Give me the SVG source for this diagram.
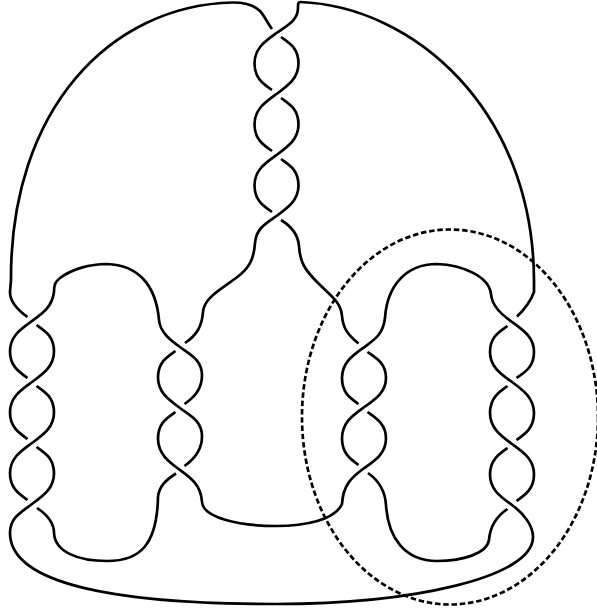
<svg xmlns="http://www.w3.org/2000/svg" width="597" height="610" viewBox="0 0 597 610">
<style>
path{fill:none;stroke:#000;stroke-width:2.7;stroke-linecap:butt}
ellipse{fill:none;stroke:#000;stroke-width:2.7;stroke-dasharray:5.500 2.800}
</style>
<rect width="597" height="610" fill="#fff"/>
<g id="knot">
<!-- top twist column -->
<path d="M272 29C268 24 264 15 260 11C254 5 246 2.500 233 2.500C110 5 10 110 11 280L10 292C10 303 19 311 27.500 317"/>
<path d="M300 2C298 2 298 4 298 8C298 20 288 25 276.500 33C265.500 41 254.500 48 254.500 63.500C254.500 78 263 84 272 90"/>
<path d="M281 37C289.500 43 298.500 48 298.500 63.500C298.500 78.500 287.500 86 276.500 94C265.500 102 254.500 109 254.500 124.500C254.500 139 263 145 272 151"/>
<path d="M281 98C289.500 104 298.500 109 298.500 124.500C298.500 139.500 287.500 147 276.500 155C265.500 163 254.500 170 254.500 185.500C254.500 200 263 206 272 212"/>
<path d="M281 159C289.500 165 298.500 170 298.500 185.500C298.500 200.500 287.500 208 276.500 216C265 224 256 229 255 243C254 258 250 268 236 278C220 290 204 298 203 312C202 326 197 335 185 343"/>
<path d="M281 220C291 226 298 234 299 246C300 262 304 269 318 283C330 295 341 302 342 316C343 329 349 336 358.500 343.500"/>
<path d="M300 2C412 6 533 108 534 280L534 292C530 303 525 309 517 316.500"/>
<!-- first twist column -->
<path d="M27.500 378C19 372 10 366 10 351.500C10 336 21 329 32 321C43 313 52 307 54 292C54 285 55 282 60 278C72 269 90 264 107 264C138 265 156 285 159 320C160 332 170 340 180 347C191 355 202 360 202 375.500C202 390 193 398 184.500 404"/>
<path d="M36.500 325C45 331 54 336 54 351.500C54 366.500 43 374 32 382C21 390 10 397 10 412.500C10 427 19 433 27.500 439"/>
<path d="M36.500 386C45 392 54 397 54 412.500C54 427.500 43 435 32 443C21 451 10 458 10 473.500C10 488 19 494 27.500 500"/>
<path d="M36.500 447C45 453 54 458 54 473.500C54 488.500 43 496 32 504C20 513 10 518 10 533C10 585 120 604 276 604C410 604 533 578 533 537C533 525 523 513 512 505C501 497 490 490 490 474.500C490 460 499 454 507.500 448"/>
<path d="M37 508C46 514 54 522 54 533C55 552 78 561 107 561C140 561 157 545 158 497C159 486 166 480 176 473.500"/>
<!-- second twist column -->
<path d="M175.500 351C167 357 158 362 158 377.500C158 392.500 169 400 180 408C191 416 202 421 202 436.500C202 451 193 460 184.500 466"/>
<path d="M175.500 412C167 418 158 423 158 438.500C158 454 169 462 180 470C191 478 201 485 202 502C203 518 240 526 276 526C305 526 335 520 342 504C343 485 352 477 363 469C374 461 386 454 386 438.500C386 424 376 418 367.500 412"/>
<!-- third twist column -->
<path d="M358.500 404C350 398 342 393 342 378C342 363 352 356 363 348C374 340 383 335 385 318C387 287 405 264 437 264C462 265 489 276 491 294C492 306 501 314 512 322C523 330 534 337 534 352C534 367 525 372 516.500 378"/>
<path d="M367.500 352C376 358 386 363 386 378C386 393 374 400 363 408C352 416 342 423 342 438.500C342 453 350 459 358.500 465"/>
<path d="M368 473C378 480 385 489 386 505C388 538 405 561 437 561C464 561 487 553 489 540C490 527 497 516 507.500 509"/>
<!-- fourth twist column -->
<path d="M507.500 326C499 332 490 337 490 352C490 367 501 374 512 382C523 390 534 398 534 413C534 428 525 434 516.500 440"/>
<path d="M507.500 386C499 392 490 398 490 413C490 428 501 436 512 444C523 452 534 459 534 474.500C534 489 525 495 516.500 501"/>
</g>
<ellipse id="region" cx="450" cy="417" rx="148" ry="187.500"/>
</svg>
